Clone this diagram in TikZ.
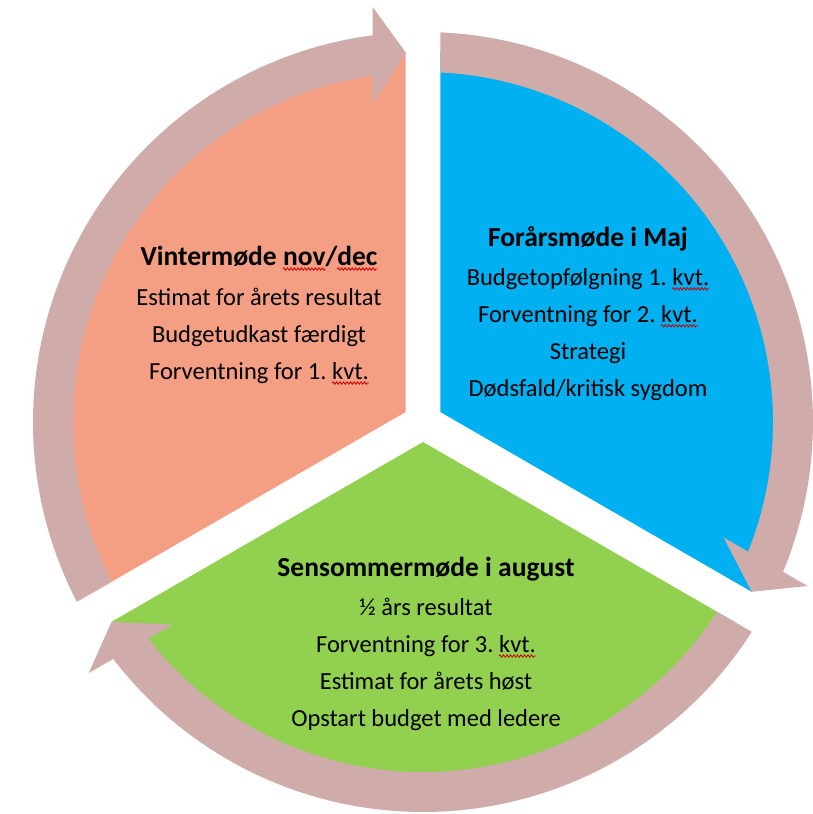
\documentclass[tikz,border=0pt]{standalone}
\usepackage{fontspec}
\setmainfont{Carlito}
\usetikzlibrary{decorations.pathmorphing}
\frenchspacing
\definecolor{sorange}{HTML}{F49E84}
\definecolor{sblue}{HTML}{00B0F0}
\definecolor{sgreen}{HTML}{92D050}
\definecolor{sband}{HTML}{CFACA9}
\newcommand\spellerr[1]{\setbox0=\hbox{#1}\leavevmode\rlap{\tikz[overlay]{\draw[red!80!black, line width=0.8pt, decorate, decoration={zigzag, amplitude=1.2pt, segment length=3.5pt}]
    (0pt,-3.5pt) -- (\the\wd0,-3.5pt);}}\box0}
\begin{document}
\begin{tikzpicture}[x=1pt,y=1pt,
  txtblock/.style={align=center, font=\fontsize{24.5}{37}\selectfont\frenchspacing, inner sep=0pt},
  cyclearrow/.pic={
    \fill[sband] (-311.4,-159.8) -- (-346.1,-179.8)
      arc[start angle=207.45,end angle=97.41,radius=390]
      -- (-50.3,415.0) -- (-17.32,369.6) -- (-50.3,318.0) -- (-50.3,346.4)
      arc[start angle=98.26,end angle=207.17,radius=350] -- cycle;
  }]
\useasboundingbox (-423,-392) rectangle (389,422);
\coordinate (C) at (0,0);
\coordinate (vor) at (150:20);
\coordinate (vbl) at (30:20);
\coordinate (vgr) at (270:20);
% sectors
\fill[sorange] (vor) -- ++(90:359.6) arc[start angle=90,end angle=210,radius=359.6] -- cycle;
\fill[sblue] (vbl) -- ++(-30:359.6) arc[start angle=-30,end angle=90,radius=359.6] -- cycle;
\fill[sgreen] (vgr) -- ++(210:359.6) arc[start angle=210,end angle=330,radius=359.6] -- cycle;
% circular arrows
\pic (aor) at (C) {cyclearrow};
\pic[rotate=-120] (abl) at (C) {cyclearrow};
\pic[rotate=120] (agr) at (C) {cyclearrow};
% texts
\node[txtblock] (tor) at (-164,107) {{\fontsize{27.5}{37}\selectfont\bfseries Vintermøde \spellerr{nov}/\spellerr{dec}}\\[3pt]
  Estimat for årets resultat\\ Budgetudkast færdigt\\ Forventning for 1. \spellerr{kvt.}};
\node[txtblock] (tbl) at (165,108.5) {{\fontsize{27.5}{37}\selectfont\bfseries Forårsmøde i Maj}\\[2pt]
  Budgetopfølgning 1. \spellerr{kvt.}\\ Forventning for 2. \spellerr{kvt.}\\ Strategi\\ Dødsfald/kritisk sygdom};
\node[txtblock] (tgr) at (3,-222) {{\fontsize{27.5}{37}\selectfont\bfseries Sensommermøde i august}\\[2pt]
  ½ års resultat\\ Forventning for 3. \spellerr{kvt.}\\ Estimat for årets høst\\ Opstart budget med ledere};
\end{tikzpicture}
\end{document}
